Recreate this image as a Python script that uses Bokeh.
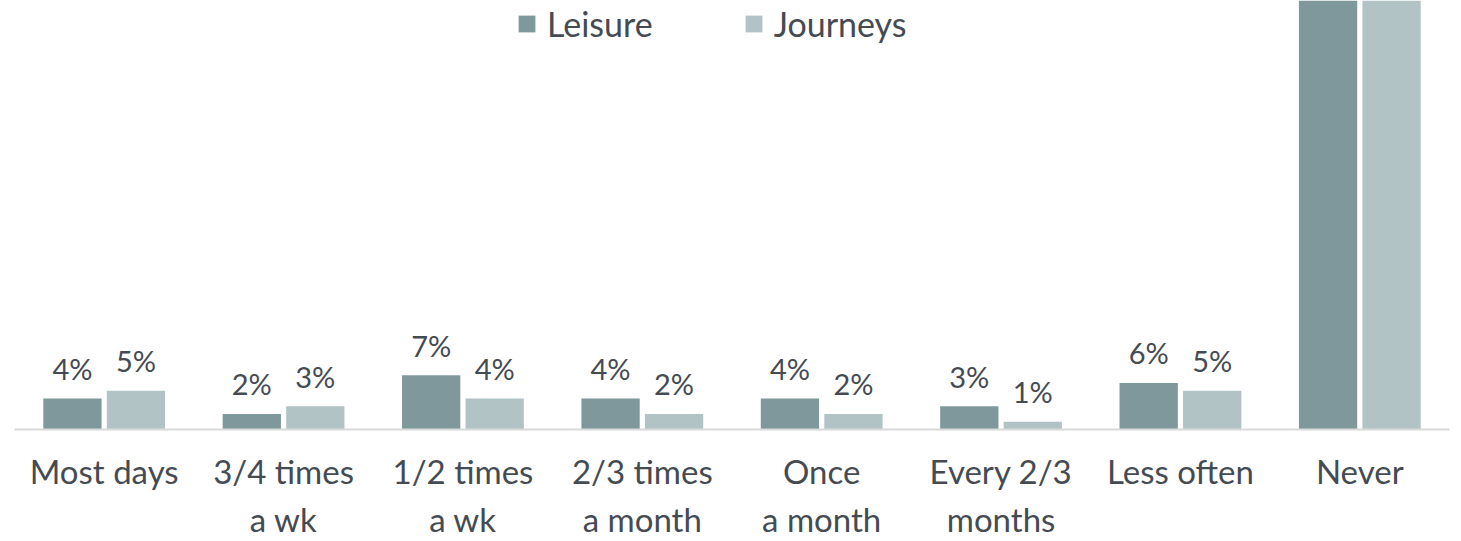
from bokeh.plotting import figure
from bokeh.models import ColumnDataSource, FactorRange, Range1d, Legend, LegendItem
from bokeh.transform import dodge
from bokeh.core.properties import value
from bokeh.embed import file_html
from bokeh.resources import INLINE

categories = ["Most days", "3/4 times\na wk", "1/2 times\na wk", "2/3 times\na month",
              "Once\na month", "Every 2/3\nmonths", "Less often", "Never"]
leisure = [4, 2, 7, 4, 4, 3, 6, 70]
journeys = [5, 3, 4, 2, 2, 1, 5, 74]

Y_MAX = 55.3

DARK = "#7F989C"
LIGHT = "#B2C3C6"
TEXT = "#454B52"
FONT = "Lato"


def lbl(v):
    # labels of bars that run past the top of the chart are not visible
    return f"{v}%" if v < Y_MAX - 5 else ""


src = ColumnDataSource(dict(
    cats=categories,
    leisure=leisure,
    journeys=journeys,
    leisure_lbl=[lbl(v) for v in leisure],
    journeys_lbl=[lbl(v) for v in journeys],
))

p = figure(width=1461, height=541, output_backend="svg", toolbar_location=None,
           x_range=FactorRange(*categories, range_padding=0),
           y_range=Range1d(0, Y_MAX),
           x_axis_location="below", y_axis_location=None,
           min_border_left=14, min_border_right=12, min_border_top=0, min_border_bottom=112)
p.outline_line_color = None
p.xgrid.visible = False
p.ygrid.visible = False
p.background_fill_color = "white"
p.border_fill_color = "white"

r1 = p.vbar(x=dodge("cats", -0.177, range=p.x_range), top="leisure", width=0.325,
            source=src, fill_color=DARK, line_color=None)
r2 = p.vbar(x=dodge("cats", 0.177, range=p.x_range), top="journeys", width=0.325,
            source=src, fill_color=LIGHT, line_color=None)

p.text(x=dodge("cats", -0.177, range=p.x_range), y="leisure", text="leisure_lbl", source=src,
       text_align="center", text_baseline="alphabetic", y_offset=-30,
       text_font=value(FONT), text_font_size="29px", text_color=TEXT)
p.text(x=dodge("cats", 0.177, range=p.x_range), y="journeys", text="journeys_lbl", source=src,
       text_align="center", text_baseline="alphabetic", y_offset=-30,
       text_font=value(FONT), text_font_size="29px", text_color=TEXT)

ax = p.xaxis[0]
ax.axis_line_color = "#D9D9D9"
ax.axis_line_width = 2
ax.major_tick_line_color = None
ax.minor_tick_line_color = None
ax.major_label_text_font = FONT
ax.major_label_text_font_size = "33px"
ax.major_label_text_color = TEXT
ax.major_label_standoff = 15
ax.major_label_orientation = "horizontal"

legend = Legend(items=[LegendItem(label="Leisure", renderers=[r1]),
                       LegendItem(label="Journeys", renderers=[r2])],
                orientation="horizontal", location=(502, 385),
                glyph_width=21, glyph_height=21, label_standoff=10, spacing=90,
                padding=0, margin=0, border_line_color=None, background_fill_alpha=0,
                label_text_font=FONT, label_text_font_size="34px", label_text_color=TEXT)
p.add_layout(legend, "center")

open("out.html", "w").write(file_html(p, INLINE))
